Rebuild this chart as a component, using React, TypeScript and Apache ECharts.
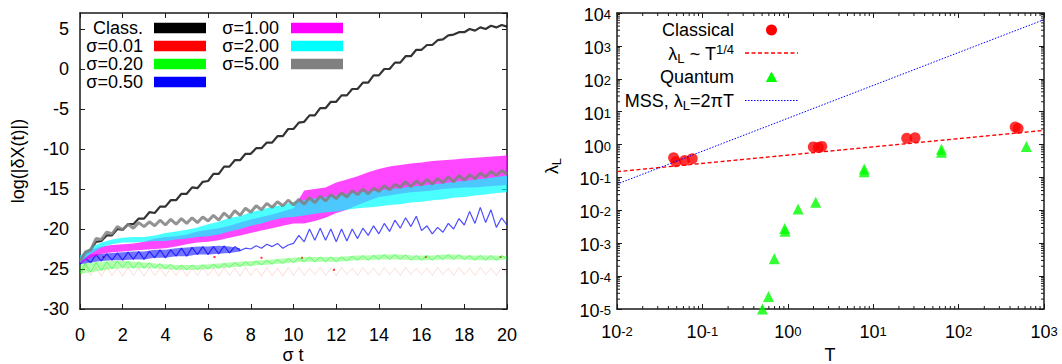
import React, { useEffect, useRef } from 'react';
import * as echarts from 'echarts';

// ---------- Left panel: log(|dX(t)|) vs sigma t ----------
// zig-zag traces sampled every 0.25 in sigma t
const T_STEP = 0.25;
// band envelopes sampled every 0.5 in sigma t
const BAND_STEP = 0.5;

const classical = [
  -24.0, -23.0, -22.6, -21.6, -21.5, -20.8, -20.8, -20.0,
  -20.1, -19.4, -19.4, -18.7, -18.7, -17.9, -18.0, -17.2,
  -17.2, -16.4, -16.4, -15.6, -15.6, -14.8, -14.9, -14.1,
  -14.0, -13.1, -13.1, -12.2, -12.2, -11.4, -11.4, -10.6,
  -10.6, -9.9, -9.9, -9.2, -9.2, -8.4, -8.4, -7.5,
  -7.5, -6.7, -6.6, -5.8, -5.8, -4.9, -4.9, -4.1,
  -4.1, -3.3, -3.3, -2.5, -2.5, -1.7, -1.7, -0.8,
  -0.8, 0.0, 0.0, 0.8, 0.8, 1.6, 1.6, 2.4,
  2.4, 3.0, 3.0, 3.6, 3.7, 4.2, 4.3, 4.6,
  4.6, 5.0, 4.8, 5.2, 5.0, 5.4, 5.2, 5.5,
  5.3,
];

const sigma001 = [
  -25.9, -24.6, -25.8, -24.8, -25.9, -24.7, -25.8, -24.9,
  -25.9, -24.8, -25.8, -24.9, -25.9, -24.8, -25.8, -24.9,
  -25.9, -24.9, -25.8, -24.8, -25.9, -24.9, -25.8, -24.8,
  -25.8, -24.9, -25.9, -24.8, -25.8, -24.9, -25.9, -24.8,
  -25.8, -24.9, -25.9, -24.8, -25.8, -24.9, -25.9, -24.8,
  -25.8, -24.8, -25.8, -24.9, -25.7, -24.8, -25.8, -24.9,
  -25.8, -24.8, -25.7, -24.9, -25.8, -24.8, -25.7, -24.9,
  -25.8, -24.8, -25.7, -24.9, -25.8, -24.8, -25.7, -24.9,
  -25.7, -24.9, -25.8, -24.8, -25.7, -24.9, -25.8, -24.8,
  -25.7, -24.9, -25.8, -24.8, -25.7, -24.9, -25.8, -24.8,
  -25.6,
];
const sigma001SpikeT = [1.1, 6.3, 8.5, 10.4, 11.9, 16.2, 19.7];
const sigma001SpikeV = [-23.5, -23.5, -23.6, -23.6, -25.1, -23.5, -23.5];

const sigma020 = [
  -25.6, -24.3, -25.4, -24.2, -25.2, -24.1, -25.0, -24.0,
  -24.8, -24.0, -24.9, -24.1, -24.9, -24.2, -24.9, -24.3,
  -25.0, -24.4, -25.1, -24.5, -25.1, -24.5, -25.1, -24.5,
  -25.0, -24.4, -24.9, -24.3, -24.8, -24.2, -24.7, -24.1,
  -24.6, -24.0, -24.5, -23.9, -24.4, -23.8, -24.3, -23.7,
  -24.2, -23.6, -24.1, -23.5, -24.1, -23.5, -24.1, -23.5,
  -24.1, -23.5, -24.0, -23.4, -23.9, -23.3, -23.9, -23.3,
  -23.8, -23.2, -23.8, -23.2, -23.8, -23.2, -23.9, -23.3,
  -23.9, -23.3, -23.9, -23.3, -23.8, -23.2, -23.8, -23.2,
  -23.8, -23.3, -23.9, -23.3, -23.9, -23.3, -23.9, -23.3,
  -23.7,
];
// sigma=0.20 envelope, every 0.5
const sigma020Lo = [
  -25.6, -25.4, -25.2, -25.0, -24.9, -24.9, -24.9, -24.9, -25.0, -25.1,
  -25.1, -25.1, -25.0, -24.9, -24.8, -24.7, -24.6, -24.5, -24.4, -24.3,
  -24.2, -24.1, -24.1, -24.1, -24.1, -24.0, -23.9, -23.9, -23.8, -23.8,
  -23.8, -23.9, -23.9, -23.9, -23.8, -23.8, -23.8, -23.9, -23.9, -23.9,
  -23.8,
];
const sigma020Hi = [
  -24.3, -24.2, -24.1, -24.0, -24.0, -24.1, -24.2, -24.3, -24.4, -24.5,
  -24.5, -24.5, -24.4, -24.3, -24.2, -24.1, -24.0, -23.9, -23.8, -23.7,
  -23.6, -23.5, -23.5, -23.5, -23.5, -23.4, -23.3, -23.3, -23.2, -23.2,
  -23.2, -23.3, -23.3, -23.3, -23.2, -23.2, -23.3, -23.3, -23.3, -23.3,
  -23.4,
];

const sigma050 = [
  -24.4, -23.7, -24.2, -23.2, -24.0, -23.1, -23.9, -23.0,
  -23.9, -22.9, -23.8, -22.8, -23.8, -22.8, -23.6, -22.6,
  -23.6, -22.6, -23.4, -22.4, -23.4, -22.3, -23.2, -22.2,
  -23.2, -22.2, -23.1, -22.1, -23.0, -22.2, -22.7, -22.4,
  -22.5, -22.1, -22.4, -21.9, -22.2, -21.8, -22.4, -22.0,
  -21.8, -20.8, -21.6, -20.0, -21.4, -19.9, -21.4, -20.0,
  -21.6, -20.0, -21.5, -20.0, -21.2, -19.9, -20.8, -19.6,
  -20.6, -19.3, -20.3, -18.9, -19.9, -18.6, -19.7, -18.4,
  -20.2, -19.6, -20.6, -19.8, -20.4, -19.3, -20.0, -18.7,
  -19.5, -17.8, -19.3, -17.3, -19.2, -17.6, -19.8, -18.6,
  -19.5,
];
// sigma=0.50 dense part (sigma t = 0 .. 7.5), every 0.5
const sigma050Lo = [
  -24.4, -24.2, -24.0, -23.9, -23.9, -23.8, -23.8, -23.6,
  -23.6, -23.4, -23.4, -23.2, -23.2, -23.1, -23.0, -22.8,
];
const sigma050Hi = [
  -23.8, -23.2, -23.1, -23.0, -22.9, -22.8, -22.8, -22.6,
  -22.6, -22.4, -22.3, -22.2, -22.2, -22.1, -22.2, -22.4,
];

// sigma=1.00 envelope, every 0.5
const sigma100Lo = [
  -24.3, -23.6, -23.1, -22.9, -22.8, -22.7, -22.6, -22.5, -22.4, -22.2,
  -21.9, -21.7, -21.6, -21.4, -21.1, -20.8, -20.5, -20.2, -19.9, -19.6,
  -19.3, -19.3, -19.0, -18.6, -18.0, -17.6, -17.0, -16.5, -16.0, -15.8,
  -15.6, -15.4, -15.3, -15.2, -15.0, -14.9, -14.8, -14.8, -14.7, -14.6,
  -14.5,
];
const sigma100Hi = [
  -23.6, -22.6, -22.2, -22.0, -21.9, -21.8, -21.6, -21.2, -21.0, -20.9,
  -20.7, -20.3, -20.1, -19.9, -19.6, -19.2, -18.8, -18.5, -18.2, -17.8,
  -17.4, -15.2, -15.0, -14.8, -14.2, -13.8, -13.4, -12.9, -12.5, -12.2,
  -12.0, -11.8, -11.7, -11.5, -11.4, -11.3, -11.2, -11.1, -11.0, -10.9,
  -10.8,
];

// sigma=2.00 envelope, every 0.5
const sigma200Lo = [
  -24.2, -23.1, -22.3, -21.9, -21.7, -21.7, -21.6, -21.5, -21.5, -21.3,
  -21.2, -21.0, -20.9, -20.7, -20.3, -20.0, -19.6, -19.3, -18.9, -18.6,
  -18.5, -18.3, -18.1, -17.9, -17.8, -17.6, -17.4, -17.3, -17.2, -17.0,
  -16.9, -16.7, -16.6, -16.4, -16.3, -16.1, -16.0, -15.8, -15.7, -15.5,
  -15.4,
];
const sigma200Hi = [
  -23.3, -22.3, -21.7, -21.3, -21.1, -21.0, -21.0, -20.8, -20.5, -20.3,
  -20.1, -19.8, -19.4, -19.1, -18.6, -18.4, -17.9, -17.6, -17.2, -17.0,
  -16.6, -16.4, -16.2, -16.0, -15.8, -15.6, -15.4, -15.3, -15.2, -15.0,
  -14.9, -14.7, -14.6, -14.4, -14.3, -14.1, -14.0, -13.8, -13.7, -13.5,
  -13.3,
];

const sigma500 = [
  -24.0, -22.9, -22.6, -21.2, -21.3, -20.4, -20.6, -19.7,
  -20.1, -19.4, -19.9, -19.2, -19.7, -19.1, -19.6, -18.9,
  -19.5, -18.8, -19.4, -18.7, -19.3, -18.6, -19.2, -18.5,
  -19.0, -18.3, -18.9, -18.0, -18.6, -17.7, -18.3, -17.4,
  -17.9, -17.1, -17.6, -16.8, -17.3, -16.6, -17.1, -16.4,
  -17.0, -16.3, -16.9, -16.1, -16.7, -15.9, -16.5, -15.7,
  -16.2, -15.5, -16.0, -15.2, -15.7, -15.0, -15.6, -14.9,
  -15.3, -14.6, -15.1, -14.4, -14.8, -14.1, -14.7, -14.0,
  -14.5, -13.8, -14.4, -13.7, -14.2, -13.5, -14.1, -13.3,
  -13.9, -13.2, -13.7, -13.0, -13.5, -12.8, -13.3, -12.7,
  -13.1,
];

const leftNames = ['Class.', 'σ=0.01', 'σ=0.20', 'σ=0.50', 'σ=1.00', 'σ=2.00', 'σ=5.00'];
const leftColors = ['#000000', '#ff0000', '#00ff00', '#0000ff', '#ff00ff', '#00ffff', '#808080'];

// ---------- Right panel: lambda_L vs T ----------
const classicalT = [0.046, 0.049, 0.062, 0.076, 1.99, 2.28, 2.5, 24.7, 30.9, 460, 497];
const classicalL = [0.4, 0.3, 0.33, 0.37, 0.85, 0.82, 0.88, 1.55, 1.6, 3.4, 3.1];

const quantumT = [0.505, 0.594, 0.695, 0.92, 0.93, 1.32, 2.12, 7.85, 7.85, 63, 63, 622];
const quantumL = [1.0e-5, 2.4e-5, 3.4e-4, 2.8e-3, 2.3e-3, 0.011, 0.0175, 0.18, 0.15, 0.72, 0.58, 0.88];

const fitT = [0.01, 1000];
const fitL = [0.15, 2.7];

const mssT = [0.01, 1000];
const mssL = [0.0628, 6283];

const minorMantissas = [2, 3, 4, 5, 6, 7, 8, 9];
const xDecades = [-2, -1, 0, 1, 2];
const yDecades = [-5, -4, -3, -2, -1, 0, 1, 2, 3];

const FONT = 'Liberation Sans, Arial, Helvetica, sans-serif';
const FS = 18;
const AX = '#1a1a1a';

function zigzag(arr: number[], color: string, width: number, opacity: number, z: number) {
  return {
    type: 'line',
    xAxisIndex: 0,
    yAxisIndex: 0,
    data: arr.map((v, i) => [i * T_STEP, v]),
    symbol: 'none',
    lineStyle: { color, width, opacity },
    silent: true,
    z,
  };
}

// filled band between two envelopes, drawn as a polygon through the axis scales
function band(lo: number[], hi: number[], color: string, opacity: number, z: number) {
  return {
    type: 'custom',
    xAxisIndex: 0,
    yAxisIndex: 0,
    silent: true,
    z,
    data: lo.map((v, i) => [i * BAND_STEP, v, hi[i]]),
    renderItem: (params: any, api: any) => {
      if (params.dataIndex !== 0) return null;
      const pts: number[][] = [];
      for (let i = 0; i < lo.length; i++) pts.push(api.coord([i * BAND_STEP, hi[i]]));
      for (let i = lo.length - 1; i >= 0; i--) pts.push(api.coord([i * BAND_STEP, lo[i]]));
      return {
        type: 'polygon',
        shape: { points: pts },
        style: { fill: color, opacity },
      };
    },
  };
}

export default function App() {
  const ref = useRef<HTMLDivElement>(null);

  useEffect(() => {
    if (!ref.current) return;
    const chart = echarts.init(ref.current, undefined, { renderer: 'svg' });

    const leftSeries: any[] = [
      zigzag(classical, leftColors[0], 2.2, 0.8, 2),
      zigzag(sigma001, leftColors[1], 1, 0.15, 3),
      {
        type: 'scatter',
        xAxisIndex: 0,
        yAxisIndex: 0,
        data: sigma001SpikeT.map((t, i) => [t, sigma001SpikeV[i]]),
        symbol: 'rect',
        symbolSize: 2,
        itemStyle: { color: '#ff0000' },
        silent: true,
        z: 3,
      },
      band(sigma020Lo, sigma020Hi, leftColors[2], 0.3, 4),
      zigzag(sigma020, leftColors[2], 0.8, 0.6, 4),
      band(sigma050Lo, sigma050Hi, leftColors[3], 0.55, 5),
      zigzag(sigma050, leftColors[3], 1.2, 0.7, 5),
      band(sigma100Lo, sigma100Hi, leftColors[4], 0.72, 6),
      band(sigma200Lo, sigma200Hi, leftColors[5], 0.7, 7),
      zigzag(sigma500, leftColors[6], 3, 0.85, 8),
    ];

    const logLabelRich = {
      b: { fontSize: FS, fontFamily: FONT, color: '#000', lineHeight: 22, verticalAlign: 'bottom' },
      s: { fontSize: 13, fontFamily: FONT, color: '#000', lineHeight: 13, verticalAlign: 'top', padding: [6, 0, 11, 0] },
    };
    const logFormatter = (v: number) => `{b|10}{s|${Math.round(Math.log10(v))}}`;

    const baseLine = { show: true, onZero: false, lineStyle: { color: AX, width: 1.5 } };
    const tick = { show: true, inside: true, length: 5, lineStyle: { color: AX, width: 1 } };

    const minorX = xDecades.flatMap((d) => minorMantissas.map((m) => m * Math.pow(10, d)));
    const minorY = yDecades.flatMap((d) => minorMantissas.map((m) => m * Math.pow(10, d)));

    const option: any = {
      animation: false,
      backgroundColor: '#ffffff',
      grid: [
        { left: 80, top: 13, width: 427, height: 296 },
        { left: 617, top: 13, width: 427, height: 296 },
      ],
      xAxis: [
        {
          type: 'value', gridIndex: 0, min: 0, max: 20, interval: 2, position: 'bottom',
          axisLine: baseLine, axisTick: tick, splitLine: { show: false },
          axisLabel: { fontSize: FS, fontFamily: FONT, color: '#000', margin: 17 },
        },
        {
          type: 'value', gridIndex: 0, min: 0, max: 20, interval: 2, position: 'top',
          axisLine: baseLine, axisTick: tick, splitLine: { show: false }, axisLabel: { show: false },
        },
        {
          type: 'log', logBase: 10, gridIndex: 1, min: 0.01, max: 1000, splitNumber: 5, position: 'bottom',
          axisLine: baseLine, axisTick: tick, splitLine: { show: false },
          axisLabel: { formatter: logFormatter, rich: logLabelRich, margin: 10 },
        },
        {
          type: 'log', logBase: 10, gridIndex: 1, min: 0.01, max: 1000, splitNumber: 5, position: 'top',
          axisLine: baseLine, axisTick: tick, splitLine: { show: false }, axisLabel: { show: false },
        },
      ],
      yAxis: [
        {
          type: 'value', gridIndex: 0, min: -30, max: 7, interval: 5, position: 'left',
          axisLine: baseLine, axisTick: tick, splitLine: { show: false },
          axisLabel: { fontSize: FS, fontFamily: FONT, color: '#000', margin: 11, showMaxLabel: false },
        },
        {
          type: 'value', gridIndex: 0, min: -30, max: 7, interval: 5, position: 'right',
          axisLine: baseLine, axisTick: tick, splitLine: { show: false }, axisLabel: { show: false },
        },
        {
          type: 'log', logBase: 10, gridIndex: 1, min: 1e-5, max: 1e4, splitNumber: 9, position: 'left',
          axisLine: baseLine, axisTick: tick, splitLine: { show: false },
          axisLabel: { formatter: logFormatter, rich: logLabelRich, margin: 6 },
        },
        {
          type: 'log', logBase: 10, gridIndex: 1, min: 1e-5, max: 1e4, splitNumber: 9, position: 'right',
          axisLine: baseLine, axisTick: tick, splitLine: { show: false }, axisLabel: { show: false },
        },
      ],
      series: [
        ...leftSeries,
        {
          type: 'custom',
          xAxisIndex: 2,
          yAxisIndex: 2,
          silent: true,
          clip: false,
          data: minorX.map((v) => [v, 1]),
          renderItem: (_p: any, api: any) => {
            const x = api.value(0);
            const b = api.coord([x, 1e-5]);
            const t = api.coord([x, 1e4]);
            return {
              type: 'group',
              children: [
                { type: 'line', shape: { x1: b[0], y1: b[1], x2: b[0], y2: b[1] - 3 }, style: { stroke: AX, lineWidth: 1 } },
                { type: 'line', shape: { x1: t[0], y1: t[1], x2: t[0], y2: t[1] + 3 }, style: { stroke: AX, lineWidth: 1 } },
              ],
            };
          },
        },
        {
          type: 'custom',
          xAxisIndex: 2,
          yAxisIndex: 2,
          silent: true,
          clip: false,
          data: minorY.map((v) => [1, v]),
          renderItem: (_p: any, api: any) => {
            const y = api.value(1);
            const l = api.coord([0.01, y]);
            const r = api.coord([1000, y]);
            return {
              type: 'group',
              children: [
                { type: 'line', shape: { x1: l[0], y1: l[1], x2: l[0] + 3, y2: l[1] }, style: { stroke: AX, lineWidth: 1 } },
                { type: 'line', shape: { x1: r[0], y1: r[1], x2: r[0] - 3, y2: r[1] }, style: { stroke: AX, lineWidth: 1 } },
              ],
            };
          },
        },
        {
          type: 'scatter',
          name: 'Classical',
          xAxisIndex: 2,
          yAxisIndex: 2,
          data: classicalT.map((t, i) => [t, classicalL[i]]),
          symbol: 'circle',
          symbolSize: 11,
          itemStyle: { color: '#ff0000' },
          silent: true,
          z: 3,
        },
        {
          type: 'line',
          xAxisIndex: 2,
          yAxisIndex: 2,
          data: fitT.map((t, i) => [t, fitL[i]]),
          symbol: 'none',
          lineStyle: { color: '#ff0000', width: 1.3, type: [4, 2.5] },
          silent: true,
          z: 4,
        },
        {
          type: 'scatter',
          name: 'Quantum',
          xAxisIndex: 2,
          yAxisIndex: 2,
          data: quantumT.map((t, i) => [t, quantumL[i]]),
          symbol: 'triangle',
          symbolSize: 11,
          itemStyle: { color: '#00ff00' },
          silent: true,
          z: 5,
        },
        {
          type: 'line',
          xAxisIndex: 2,
          yAxisIndex: 2,
          data: mssT.map((t, i) => [t, mssL[i]]),
          symbol: 'none',
          lineStyle: { color: '#0000ff', width: 1, type: [1.5, 1.5] },
          silent: true,
          z: 6,
        },
      ],
      graphic: [] as any[],
    };

    const g: any[] = option.graphic;
    // left legend
    const col1 = [0, 1, 2, 3];
    const col2 = [4, 5, 6];
    const rowsY = [28, 46, 64, 82];
    col1.forEach((k, r) => {
      g.push({ type: 'text', x: 143, y: rowsY[r], style: { text: leftNames[k], fontSize: FS, fontFamily: FONT, fill: '#000', textAlign: 'right', textVerticalAlign: 'middle' }, z: 100 });
      g.push({ type: 'rect', shape: { x: 154, y: rowsY[r] - 5.3, width: 52, height: 10.6 }, style: { fill: leftColors[k] }, z: 100 });
    });
    col2.forEach((k, r) => {
      g.push({ type: 'text', x: 279, y: rowsY[r], style: { text: leftNames[k], fontSize: FS, fontFamily: FONT, fill: '#000', textAlign: 'right', textVerticalAlign: 'middle' }, z: 100 });
      g.push({ type: 'rect', shape: { x: 291, y: rowsY[r] - 5.3, width: 52, height: 10.6 }, style: { fill: leftColors[k] }, z: 100 });
    });

    const rich = {
      a: { fontSize: FS, fontFamily: FONT, fill: '#000', color: '#000', lineHeight: 22 },
      s: { fontSize: 13, fontFamily: FONT, fill: '#000', color: '#000', lineHeight: 13, verticalAlign: 'bottom' },
      p: { fontSize: 13, fontFamily: FONT, fill: '#000', color: '#000', lineHeight: 13, verticalAlign: 'top' },
    };
    const rX = 734;
    g.push({ type: 'text', x: rX, y: 30, style: { text: 'Classical', fontSize: FS, fontFamily: FONT, fill: '#000', textAlign: 'right', textVerticalAlign: 'middle' }, z: 100 });
    g.push({ type: 'circle', shape: { cx: 771.5, cy: 30, r: 5.5 }, style: { fill: '#ff0000' }, z: 100 });
    g.push({ type: 'text', x: rX, y: 54, style: { text: '{a|λ}{s|L}{a| ~ T}{p|1/4}', rich, textAlign: 'right', textVerticalAlign: 'middle' }, z: 100 });
    g.push({ type: 'line', shape: { x1: 745, y1: 53, x2: 798, y2: 53 }, style: { stroke: '#ff0000', lineWidth: 1.3, lineDash: [4, 2.5] }, z: 100 });
    g.push({ type: 'text', x: rX, y: 77, style: { text: 'Quantum', fontSize: FS, fontFamily: FONT, fill: '#000', textAlign: 'right', textVerticalAlign: 'middle' }, z: 100 });
    g.push({ type: 'polygon', shape: { points: [[771.5, 71.5], [765.8, 82], [777.2, 82]] }, style: { fill: '#00ff00' }, z: 100 });
    g.push({ type: 'text', x: rX, y: 101, style: { text: '{a|MSS, λ}{s|L}{a|=2πT}', rich, textAlign: 'right', textVerticalAlign: 'middle' }, z: 100 });
    g.push({ type: 'line', shape: { x1: 745, y1: 100.5, x2: 798, y2: 100.5 }, style: { stroke: '#0000ff', lineWidth: 1, lineDash: [1.5, 1.5] }, z: 100 });

    // axis titles
    g.push({ type: 'text', x: 18, y: 161, rotation: Math.PI / 2, style: { text: 'log(|δX(t)|)', fontSize: FS, fontFamily: FONT, fill: '#000', textAlign: 'center', textVerticalAlign: 'middle' }, z: 100 });
    g.push({ type: 'text', x: 293, y: 355, style: { text: 'σ t', fontSize: FS, fontFamily: FONT, fill: '#000', textAlign: 'center', textVerticalAlign: 'middle' }, z: 100 });
    g.push({ type: 'text', x: 830, y: 355, style: { text: 'T', fontSize: FS, fontFamily: FONT, fill: '#000', textAlign: 'center', textVerticalAlign: 'middle' }, z: 100 });
    g.push({ type: 'text', x: 552, y: 166, rotation: Math.PI / 2, style: { text: '{a|λ}{s|L}', rich, textAlign: 'center', textVerticalAlign: 'middle' }, z: 100 });

    chart.setOption(option);
    return () => chart.dispose();
  }, []);

  return (
    <div
      ref={ref}
      style={{ position: 'absolute', left: 0, top: 0, width: 1062, height: 364, background: '#fff' }}
    />
  );
}
